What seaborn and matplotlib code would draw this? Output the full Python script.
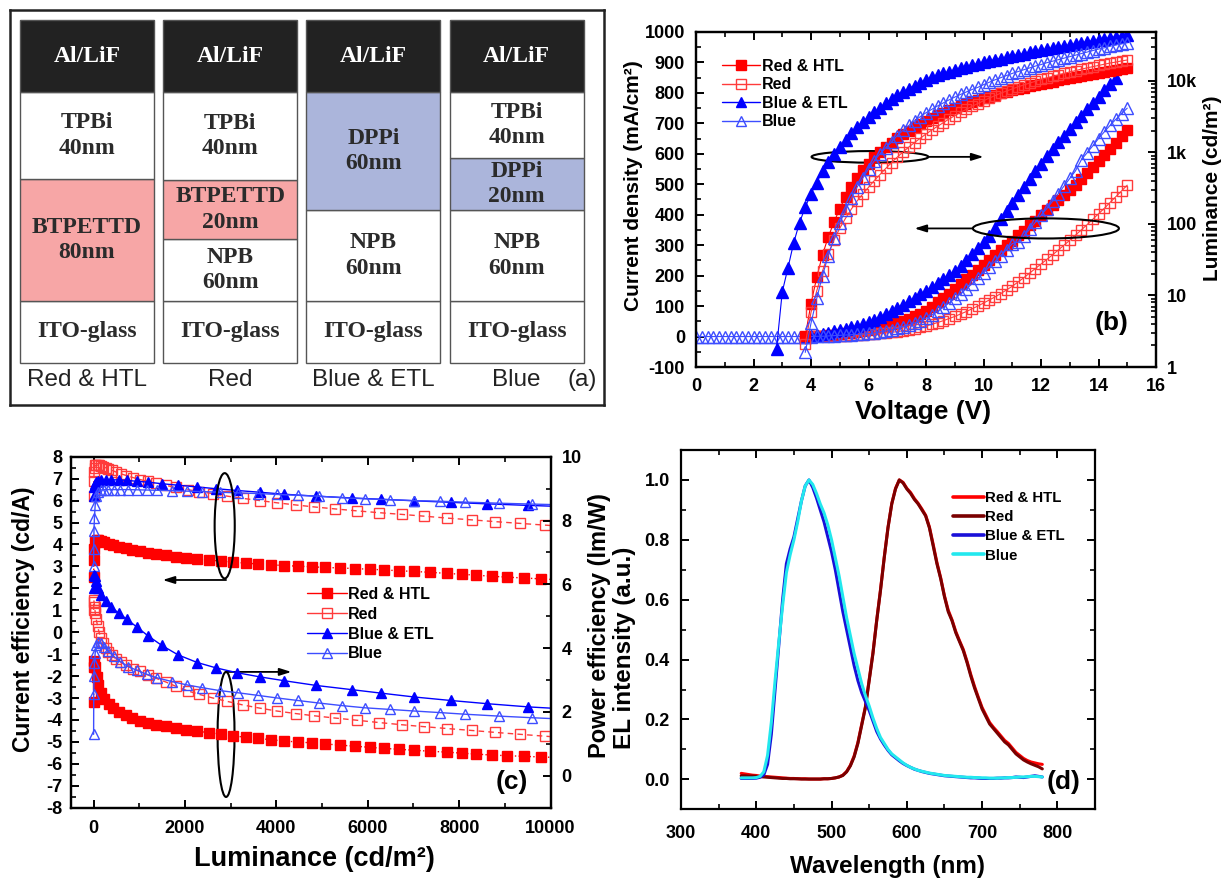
"""
plot.py

Four-panel OLED figure: (a) device stacks, (b) J-V-L curves,
(c) current / power efficiency vs luminance, (d) EL spectra.
Values are read off the reference picture by eye.
"""

import numpy as np
import matplotlib
matplotlib.use("Agg")
import matplotlib.pyplot as plt
import seaborn as sns
from matplotlib.lines import Line2D
from matplotlib.patches import Ellipse
from matplotlib.ticker import (MultipleLocator, FixedLocator, FixedFormatter,
                               LogLocator, NullFormatter)

# ---------------------------------------------------------------------------
# DATA
# ---------------------------------------------------------------------------
SERIES = ["Red & HTL", "Red", "Blue & ETL", "Blue"]

# (a) layer stacks, bottom -> top (heights are schematic drawing units)
STACK_LABELS = [
    ["ITO-glass", "BTPETTD\n80nm", "TPBi\n40nm", "Al/LiF"],
    ["ITO-glass", "NPB\n60nm", "BTPETTD\n20nm", "TPBi\n40nm", "Al/LiF"],
    ["ITO-glass", "NPB\n60nm", "DPPi\n60nm", "Al/LiF"],
    ["ITO-glass", "NPB\n60nm", "DPPi\n20nm", "TPBi\n40nm", "Al/LiF"],
]
STACK_HEIGHTS = [
    [62, 122, 87, 72],
    [62, 62, 59, 88, 72],
    [62, 91, 118, 72],
    [62, 91, 52, 66, 72],
]
LAYER_COLORS = {"Al/LiF": "#222222", "TPBi": "white", "BTPETTD": "#f7a6a6",
                "NPB": "white", "DPPi": "#abb5db", "ITO-glass": "white"}

# (b) voltage sweep (V) and current density (mA/cm2)
VOLTAGE = np.round(np.arange(0.0, 15.01, 0.2), 1)

J_START_V = [3.8, 3.8, 3.8, 0.0]
J_RED_HTL = [0,
             1, 2, 3, 5, 6, 8, 10, 12, 15, 18, 22, 26, 30, 35, 40,
             45, 51, 58, 66, 75, 85, 98, 112, 126, 141, 157, 172, 188, 203, 219,
             235, 251, 267, 283, 299, 315, 332, 348, 365, 381, 398, 414, 431, 447, 464,
             480, 499, 518, 538, 557, 577, 597, 617, 637, 657, 677]
J_RED = [0,
         0, 1, 1, 2, 2, 3, 3, 4, 5, 6, 7, 8, 10, 12, 14,
         16, 19, 22, 26, 30, 35, 40, 46, 52, 59, 66, 74, 82, 91, 100,
         110, 120, 130, 141, 153, 165, 179, 193, 208, 223, 238, 253, 268, 284, 300,
         316, 333, 350, 367, 385, 403, 421, 440, 459, 478, 497]
J_BLUE_ETL = [0,
              3, 5, 8, 12, 17, 22, 26, 31, 36, 41, 47, 55, 64, 74, 84,
              95, 105, 116, 127, 139, 150, 162, 175, 188, 201, 215, 232, 251, 270, 290,
              310, 331, 355, 385, 412, 440, 466, 492, 518, 543, 568, 592, 615, 638, 660,
              682, 704, 725, 746, 767, 788, 809, 830, 850]
J_BLUE = [0, 0, 0, 0, 0, 0, 0, 0, 0, 0, 0, 0, 0, 0, 0, 0, 0, 0, 0, 0,
          0, 1, 1, 2, 3, 4, 5, 6, 7, 8, 10, 12, 15, 18, 22,
          27, 32, 38, 45, 52, 60, 71, 83, 96, 110, 125, 140, 156, 173, 191,
          210, 228, 247, 266, 285, 305, 310, 330, 352, 375, 398, 420, 444, 469, 494,
          519, 544, 580, 603, 626, 650, 672, 693, 713, 732, 750]

# (b) luminance (cd/m2), starting at the turn-on voltage of each device
LUM_START_V = [3.8, 3.8, 2.8, 3.8]
LUM_RED_HTL = [2.7, 7.7, 18, 37, 66, 106, 164, 238, 329, 433,
               564, 700, 851, 1016, 1189, 1377, 1581, 1795, 2018, 2270,
               2529, 2793, 3048, 3327, 3597, 3890, 4169, 4467, 4786, 5070,
               5383, 5715, 6053, 6353, 6683, 7015, 7362, 7745, 8054, 8375,
               8710, 9057, 9419, 9795, 10190, 10590, 11020, 11350, 11800, 12160,
               12530, 13030, 13410, 13800, 14360, 14790, 15240]
LUM_RED = [2.1, 5.8, 11.6, 22, 38, 60, 87, 120, 161, 209,
           262, 326, 404, 492, 598, 721, 861, 1016, 1189, 1377,
           1581, 1811, 2061, 2317, 2606, 2931, 3266, 3639, 4009, 4426,
           4831, 5284, 5768, 6237, 6745, 7228, 7745, 8282, 8790, 9333,
           9886, 10490, 11020, 11570, 12150, 12760, 13400, 13930, 14650, 15240,
           15850, 16480, 17140, 17820, 18340, 19070, 19650]
LUM_BLUE_ETL = [1.8, 11.2, 24.5, 55, 104, 172, 265, 378, 548, 735,
                940, 1189, 1489, 1849, 2270, 2685, 3141, 3639, 4170, 4878,
                5649, 6295, 7015, 7816, 8610, 9506, 10380, 11220, 12020, 12760,
                13520, 14350, 15070, 15820, 16630, 17460, 18160, 19060, 19820, 20610,
                21430, 22320, 23220, 24150, 25120, 26120, 26870, 27930, 28770, 29920,
                30830, 31770, 33040, 34040, 35400, 36480, 37500, 39000, 40180, 41400,
                42660, 43450]
LUM_BLUE = [1.6, 4.1, 9.1, 19, 36, 63, 104, 156, 231, 326,
            438, 586, 764, 957, 1167, 1390, 1726, 2038, 2384, 2761,
            3170, 3597, 4009, 4467, 4932, 5433, 5943, 6486, 7015, 7586,
            8128, 8872, 9594, 10380, 11120, 11910, 12760, 13520, 14350, 15210,
            16140, 16950, 17990, 18880, 19820, 20840, 21880, 22960, 24150, 25350,
            26610, 27930, 29040, 30550, 31770, 33040, 34360]

# (c) current efficiency (cd/A) and power efficiency (lm/W) at the first luminance points
CE_RED_HTL = [2.5, 3.3, 3.8, 4.1, 4.2, 4.2, 4.15, 4.1, 4.03, 3.97,
              3.9, 3.83, 3.76, 3.68, 3.62, 3.56, 3.5, 3.44, 3.39, 3.34,
              3.29, 3.24, 3.19, 3.15, 3.11, 3.07, 3.04, 3.01, 2.98, 2.95,
              2.93, 2.9, 2.87, 2.84, 2.8, 2.77, 2.73, 2.68, 2.64, 2.6,
              2.55, 2.51, 2.47, 2.43, 2.39]
PE_RED_HTL = [2.3, 3.4, 3.6, 3.4, 3.1, 2.85, 2.6, 2.42, 2.25, 2.12,
              2.0, 1.9, 1.8, 1.72, 1.66, 1.6, 1.55, 1.5, 1.45, 1.4,
              1.35, 1.3, 1.25, 1.21, 1.17, 1.13, 1.09, 1.06, 1.03, 1.0,
              0.96, 0.93, 0.89, 0.86, 0.83, 0.8, 0.77, 0.74, 0.71, 0.68,
              0.65, 0.63, 0.61, 0.59, 0.57]
CE_RED = [6.2, 6.9, 7.3, 7.5, 7.6, 7.62, 7.62, 7.6, 7.58, 7.55,
          7.5, 7.45, 7.38, 7.3, 7.22, 7.14, 7.05, 6.96, 6.87, 6.78,
          6.69, 6.6, 6.5, 6.41, 6.32, 6.2, 6.1, 6.0, 5.9, 5.8,
          5.71, 5.62, 5.53, 5.45, 5.37, 5.29, 5.2, 5.12, 5.04, 4.96,
          4.88, 4.8]
PE_RED = [5.2, 5.5, 5.45, 5.3, 5.1, 4.9, 4.7, 4.5, 4.32, 4.15,
          4.0, 3.88, 3.77, 3.66, 3.56, 3.46, 3.36, 3.28, 3.16, 3.05,
          2.94, 2.8, 2.66, 2.55, 2.44, 2.33, 2.22, 2.12, 2.03, 1.95,
          1.88, 1.81, 1.74, 1.67, 1.6, 1.54, 1.48, 1.42, 1.36, 1.3,
          1.24, 1.18]
CE_BLUE_ETL = [6.2, 6.6, 6.75, 6.85, 6.9, 6.93, 6.95, 6.95, 6.94, 6.92,
               6.88, 6.84, 6.77, 6.7, 6.62, 6.54, 6.46, 6.38, 6.29, 6.2,
               6.12, 6.06, 5.99, 5.92, 5.85, 5.78, 5.72]
PE_BLUE_ETL = [5.9, 6.3, 6.25, 6.1, 5.9, 5.68, 5.48, 5.3, 5.1, 4.9,
               4.67, 4.39, 4.09, 3.79, 3.55, 3.38, 3.23, 3.1, 2.98, 2.83,
               2.7, 2.59, 2.47, 2.36, 2.26, 2.16, 2.09]
CE_BLUE = [3.0, 3.8, 4.6, 5.2, 5.8, 6.2, 6.4, 6.48, 6.5, 6.5,
           6.5, 6.5, 6.5, 6.49, 6.48, 6.47, 6.45, 6.43, 6.41, 6.38,
           6.35, 6.32, 6.28, 6.24, 6.2, 6.13, 6.08, 6.04, 6.0, 5.97,
           5.93, 5.88, 5.84, 5.8]
PE_BLUE = [1.3, 2.55, 3.13, 3.54, 3.85, 4.1, 4.2, 4.15, 4.05, 3.9,
           3.75, 3.58, 3.42, 3.3, 3.18, 3.07, 2.95, 2.85, 2.76, 2.67,
           2.6, 2.52, 2.44, 2.36, 2.28, 2.2, 2.13, 2.08, 2.03, 1.98,
           1.93, 1.87, 1.82, 1.77]

# (d) normalised EL spectra
WAVELENGTH = np.arange(380, 781, 5)
EL_RED_HTL = [0.02, 0.018, 0.016, 0.014, 0.013, 0.011, 0.01, 0.009, 0.008, 0.007,
              0.006, 0.005, 0.004, 0.003, 0.003, 0.002, 0.002, 0.002, 0.001, 0.001,
              0.001, 0.001, 0.002, 0.002, 0.003, 0.005, 0.008, 0.014, 0.026, 0.047,
              0.078, 0.123, 0.183, 0.243, 0.333, 0.423, 0.532, 0.633, 0.742, 0.842,
              0.921, 0.972, 1.0, 0.992, 0.972, 0.958, 0.938, 0.922, 0.903, 0.882,
              0.843, 0.785, 0.724, 0.673, 0.613, 0.565, 0.533, 0.494, 0.463, 0.434,
              0.394, 0.35, 0.31, 0.274, 0.24, 0.215, 0.19, 0.174, 0.16, 0.145,
              0.13, 0.12, 0.105, 0.09, 0.08, 0.07, 0.063, 0.058, 0.055, 0.052,
              0.05]
EL_RED = [0.012, 0.012, 0.011, 0.011, 0.01, 0.009, 0.008, 0.007, 0.006, 0.005,
          0.004, 0.003, 0.003, 0.002, 0.002, 0.002, 0.001, 0.001, 0.001, 0.001,
          0.001, 0.001, 0.002, 0.002, 0.003, 0.005, 0.008, 0.013, 0.025, 0.045,
          0.075, 0.12, 0.18, 0.24, 0.33, 0.42, 0.53, 0.63, 0.74, 0.84,
          0.92, 0.97, 1.0, 0.99, 0.97, 0.955, 0.935, 0.92, 0.9, 0.88,
          0.84, 0.78, 0.72, 0.67, 0.61, 0.56, 0.53, 0.49, 0.46, 0.43,
          0.39, 0.345, 0.305, 0.27, 0.235, 0.21, 0.185, 0.17, 0.155, 0.14,
          0.125, 0.115, 0.1, 0.085, 0.075, 0.065, 0.058, 0.052, 0.047, 0.042,
          0.035]
EL_BLUE_ETL = [0.003, 0.003, 0.003, 0.003, 0.004, 0.007, 0.015, 0.05, 0.15, 0.3,
               0.45, 0.6, 0.72, 0.77, 0.81, 0.87, 0.93, 0.98, 1.0, 0.975,
               0.94, 0.9, 0.86, 0.81, 0.76, 0.7, 0.63, 0.56, 0.5, 0.44,
               0.38, 0.33, 0.29, 0.26, 0.23, 0.195, 0.16, 0.135, 0.115, 0.097,
               0.082, 0.072, 0.062, 0.053, 0.046, 0.04, 0.034, 0.03, 0.026, 0.023,
               0.02, 0.018, 0.016, 0.014, 0.012, 0.011, 0.01, 0.009, 0.008, 0.007,
               0.006, 0.005, 0.005, 0.004, 0.003, 0.003, 0.003, 0.003, 0.004, 0.004,
               0.005, 0.005, 0.006, 0.008, 0.007, 0.006, 0.008, 0.01, 0.012, 0.01,
               0.008]
EL_BLUE = [0.005, 0.005, 0.005, 0.005, 0.006, 0.01, 0.025, 0.08, 0.19, 0.33,
           0.46, 0.58, 0.69, 0.75, 0.8, 0.86, 0.93, 0.98, 1.0, 0.985,
           0.955, 0.92, 0.89, 0.85, 0.8, 0.74, 0.68, 0.61, 0.54, 0.48,
           0.42, 0.37, 0.32, 0.28, 0.245, 0.205, 0.17, 0.14, 0.12, 0.1,
           0.085, 0.075, 0.065, 0.055, 0.047, 0.04, 0.035, 0.03, 0.027, 0.024,
           0.021, 0.019, 0.017, 0.015, 0.013, 0.012, 0.011, 0.01, 0.009, 0.008,
           0.007, 0.007, 0.006, 0.006, 0.005, 0.005, 0.004, 0.004, 0.004, 0.005,
           0.005, 0.006, 0.006, 0.007, 0.008, 0.008, 0.009, 0.01, 0.01, 0.009,
           0.008]

J_DATA = [J_RED_HTL, J_RED, J_BLUE_ETL, J_BLUE]
LUM_DATA = [LUM_RED_HTL, LUM_RED, LUM_BLUE_ETL, LUM_BLUE]
CE_DATA = [CE_RED_HTL, CE_RED, CE_BLUE_ETL, CE_BLUE]
PE_DATA = [PE_RED_HTL, PE_RED, PE_BLUE_ETL, PE_BLUE]
EL_DATA = [EL_RED_HTL, EL_RED, EL_BLUE_ETL, EL_BLUE]

# ---------------------------------------------------------------------------
# STYLE
# ---------------------------------------------------------------------------
W, H = 1226, 880

MARK_COLOR = ["#ff0000", "#ff3b3b", "#0000ff", "#3d4dff"]
MARK_FACE = ["#ff0000", "none", "#0000ff", "none"]
MARKERS = ["s", "s", "^", "^"]
EFF_LINESTYLE = [":", (0, (4, 3)), "-", "-"]
EL_COLORS = ["#ff0000", "#7a0000", "#1a10d8", "#22e8ee"]

sns.set_style("ticks", {"axes.edgecolor": "black", "xtick.color": "black",
                        "ytick.color": "black", "text.color": "black",
                        "axes.labelcolor": "black"})
plt.rcParams["font.family"] = ["Liberation Sans", "DejaVu Sans"]
plt.rcParams["font.weight"] = "bold"
plt.rcParams["axes.labelweight"] = "bold"
plt.rcParams["axes.unicode_minus"] = False
plt.rcParams["axes.linewidth"] = 1.6
for a in ("xtick", "ytick"):
    plt.rcParams[f"{a}.direction"] = "in"
    plt.rcParams[f"{a}.major.size"] = 6
    plt.rcParams[f"{a}.minor.size"] = 3.5
    plt.rcParams[f"{a}.major.width"] = 1.4
    plt.rcParams[f"{a}.minor.width"] = 1.2
    plt.rcParams[f"{a}.labelsize"] = 13


def px_rect(left, top, right, bottom):
    return [left / W, 1 - bottom / H, (right - left) / W, (bottom - top) / H]


def draw_series(ax, x, y, i, ms, ls="-", lw=0.8):
    sns.lineplot(x=x, y=y, ax=ax, color=MARK_COLOR[i], linestyle=ls, linewidth=lw,
                 marker=MARKERS[i], markersize=ms, markerfacecolor=MARK_FACE[i],
                 markeredgecolor=MARK_COLOR[i], markeredgewidth=1.0,
                 estimator=None, sort=False, legend=False)


def marker_handles(ms):
    return [Line2D([], [], color=MARK_COLOR[i], lw=1.0, marker=MARKERS[i], ms=ms,
                   mfc=MARK_FACE[i], mec=MARK_COLOR[i], mew=1.0)
            for i in range(4)]


fig = plt.figure(figsize=(W / 100, H / 100), dpi=100)
fig.patch.set_facecolor("white")

# ---------------------------------------------------------------------------
# (a) device structures
# ---------------------------------------------------------------------------
ax_a = fig.add_axes(px_rect(10, 10, 604, 405))
ax_a.set_xlim(-0.538, 3.61)
ax_a.set_ylim(0, 395)
stack_base = 42
for i, (labels, heights) in enumerate(zip(STACK_LABELS, STACK_HEIGHTS)):
    bottoms = stack_base + np.concatenate([[0], np.cumsum(heights)[:-1]])
    colors = [LAYER_COLORS[lab.split("\n")[0]] for lab in labels]
    ax_a.bar([i] * len(heights), heights, bottom=bottoms, width=0.936,
             color=colors, edgecolor="#555555", linewidth=1.0)
    for lab, b, h in zip(labels, bottoms, heights):
        tcolor = "white" if lab == "Al/LiF" else "#2b2b2b"
        ax_a.text(i, b + h / 2, lab, ha="center", va="center", fontsize=17,
                  fontweight="bold", family=["Liberation Serif", "DejaVu Serif"],
                  color=tcolor, linespacing=1.25)
    ax_a.text(i, 25, SERIES[i], ha="center", va="center", fontsize=17.5,
              fontweight="normal", color="#222222")
ax_a.text(3.455, 25, "(a)", ha="center", va="center", fontsize=17.5,
          fontweight="normal", color="#222222")
ax_a.set_xticks([])
ax_a.set_yticks([])
for sp in ax_a.spines.values():
    sp.set_linewidth(1.8)
    sp.set_color("#222222")

# ---------------------------------------------------------------------------
# (b) current density and luminance vs voltage
# ---------------------------------------------------------------------------
ax_b = fig.add_axes(px_rect(696, 32, 1156, 367))
ax_b2 = ax_b.twinx()
ax_b2.set_yscale("log")
for i in range(4):
    ms = 7.2 if MARKERS[i] == "s" else 8
    j = J_DATA[i]
    v_j = VOLTAGE[VOLTAGE >= J_START_V[i]][:len(j)]
    draw_series(ax_b, v_j, j, i, ms)
    lum = LUM_DATA[i]
    v_lum = VOLTAGE[VOLTAGE >= LUM_START_V[i]][:len(lum)]
    draw_series(ax_b2, v_lum, lum, i, ms)

ax_b.set_xlim(0, 16)
ax_b.set_ylim(-100, 1000)
ax_b.xaxis.set_major_locator(MultipleLocator(2))
ax_b.xaxis.set_minor_locator(MultipleLocator(1))
ax_b.yaxis.set_major_locator(MultipleLocator(100))
ax_b.yaxis.set_minor_locator(MultipleLocator(50))
ax_b.tick_params(which="both", top=True, right=False, pad=8)
ax_b2.set_ylim(1, 4.84e4)
ax_b2.yaxis.set_major_locator(FixedLocator([1, 10, 100, 1000, 10000]))
ax_b2.yaxis.set_major_formatter(FixedFormatter(["1", "10", "100", "1k", "10k"]))
ax_b2.yaxis.set_minor_locator(LogLocator(base=10, subs=np.arange(2, 10) * 1.0, numticks=20))
ax_b2.yaxis.set_minor_formatter(NullFormatter())
ax_b2.tick_params(which="both", pad=8)

ax_b.set_xlabel("Voltage (V)", fontsize=19)
ax_b.xaxis.set_label_coords(0.494, -0.1)
ax_b.set_ylabel("Current density (mA/cm²)", fontsize=15)
ax_b.yaxis.set_label_coords(-0.115, 0.54)
ax_b2.set_ylabel("Luminance (cd/m²)", fontsize=15)
ax_b2.yaxis.set_label_coords(1.103, 0.534)

ax_b.add_patch(Ellipse((6.05, 590), 4.06, 38, fill=False, lw=1.5, ec="black", zorder=6))
ax_b.add_patch(Ellipse((12.17, 355), 5.08, 66, fill=False, lw=1.5, ec="black", zorder=6))
arrow = dict(arrowstyle="-|>,head_length=0.7,head_width=0.22", color="black",
             lw=1.3, shrinkA=0, shrinkB=0)
ax_b.annotate("", xy=(10.0, 590), xytext=(8.08, 590), arrowprops=arrow)
ax_b.annotate("", xy=(7.6, 355), xytext=(9.63, 355), arrowprops=arrow)
ax_b.text(0.904, 0.131, "(b)", transform=ax_b.transAxes, ha="center", va="center",
          fontsize=19)
ax_b2.legend(marker_handles(7.5), SERIES, loc="upper left", bbox_to_anchor=(0.056, 0.92),
             frameon=False, borderpad=0, borderaxespad=0, handlelength=2.4,
             handletextpad=0.1, labelspacing=0.22, fontsize=11.5)

# ---------------------------------------------------------------------------
# (c) efficiencies vs luminance
# ---------------------------------------------------------------------------
ax_c = fig.add_axes(px_rect(70.7, 456.7, 550.5, 807.7))
ax_c2 = ax_c.twinx()
for i in range(4):
    ms = 6.6 if MARKERS[i] == "s" else 7.8
    ce = CE_DATA[i]
    pe = PE_DATA[i]
    draw_series(ax_c, LUM_DATA[i][:len(ce)], ce, i, ms, ls=EFF_LINESTYLE[i], lw=1.0)
    draw_series(ax_c2, LUM_DATA[i][:len(pe)], pe, i, ms, ls=EFF_LINESTYLE[i], lw=1.0)

ax_c.set_xlim(-500, 10000)
ax_c.set_ylim(-8, 8)
ax_c.xaxis.set_major_locator(MultipleLocator(2000))
ax_c.xaxis.set_minor_locator(MultipleLocator(1000))
ax_c.yaxis.set_major_locator(MultipleLocator(1))
ax_c.yaxis.set_minor_locator(MultipleLocator(0.5))
ax_c.tick_params(which="both", top=True, right=False)
ax_c.tick_params(axis="x", pad=9)
ax_c.tick_params(axis="y", pad=6)
ax_c2.set_ylim(-1, 10)
ax_c2.yaxis.set_major_locator(MultipleLocator(2))
ax_c2.yaxis.set_minor_locator(MultipleLocator(1))
ax_c2.tick_params(which="both", pad=8)

ax_c.set_xlabel("Luminance (cd/m²)", fontsize=19.5)
ax_c.xaxis.set_label_coords(0.509, -0.108)
ax_c.set_ylabel("Current efficiency (cd/A)", fontsize=16.5)
ax_c.yaxis.set_label_coords(-0.074, 0.538)
ax_c2.set_ylabel("Power efficiency (lm/W)", fontsize=17)
ax_c2.yaxis.set_label_coords(1.079, 0.518)

ax_c.add_patch(Ellipse((2870, 4.85), 440, 4.8, fill=False, lw=1.5, ec="black", zorder=6))
ax_c.add_patch(Ellipse((2900, -4.66), 370, 5.7, fill=False, lw=1.5, ec="black", zorder=6))
ax_c.annotate("", xy=(1513, 2.38), xytext=(2900, 2.38), arrowprops=arrow)
ax_c.annotate("", xy=(4330, -1.81), xytext=(2900, -1.81), arrowprops=arrow)
ax_c.text(0.919, 0.074, "(c)", transform=ax_c.transAxes, ha="center", va="center",
          fontsize=19)
ax_c2.legend(marker_handles(7), SERIES, loc="upper left", bbox_to_anchor=(0.492, 0.629),
             frameon=False, borderpad=0, borderaxespad=0, handlelength=2.5,
             handletextpad=0.1, labelspacing=0.3, fontsize=11.5)

# ---------------------------------------------------------------------------
# (d) EL spectra
# ---------------------------------------------------------------------------
ax_d = fig.add_axes(px_rect(681, 450, 1095, 809.3))
for i in range(4):
    sns.lineplot(x=WAVELENGTH, y=EL_DATA[i], ax=ax_d, color=EL_COLORS[i],
                 linewidth=2.2, estimator=None, sort=False, legend=False)
ax_d.set_xlim(300, 850)
ax_d.set_ylim(-0.1, 1.1)
ax_d.xaxis.set_major_locator(MultipleLocator(100))
ax_d.xaxis.set_minor_locator(MultipleLocator(50))
ax_d.yaxis.set_major_locator(FixedLocator([0.0, 0.2, 0.4, 0.6, 0.8, 1.0]))
ax_d.yaxis.set_major_formatter(FixedFormatter(["0.0", "0.2", "0.4", "0.6", "0.8", "1.0"]))
ax_d.yaxis.set_minor_locator(MultipleLocator(0.1))
ax_d.tick_params(which="both", top=True, right=True)
ax_d.tick_params(axis="x", pad=11)
ax_d.tick_params(axis="y", pad=8)
ax_d.set_xlabel("Wavelength (nm)", fontsize=17.5)
ax_d.xaxis.set_label_coords(0.499, -0.127)
ax_d.set_ylabel("EL intensity (a.u.)", fontsize=17.5)
ax_d.yaxis.set_label_coords(-0.108, 0.449)
ax_d.text(0.925, 0.077, "(d)", transform=ax_d.transAxes, ha="center", va="center",
          fontsize=19)
el_handles = [Line2D([], [], color=c, lw=2.6) for c in EL_COLORS]
ax_d.legend(el_handles, SERIES, loc="upper left", bbox_to_anchor=(0.656, 0.886),
            frameon=False, borderpad=0, borderaxespad=0, handlelength=2.1,
            handletextpad=0.05, labelspacing=0.35, fontsize=10.8)

fig.savefig("out.png", dpi=100, facecolor="white")
